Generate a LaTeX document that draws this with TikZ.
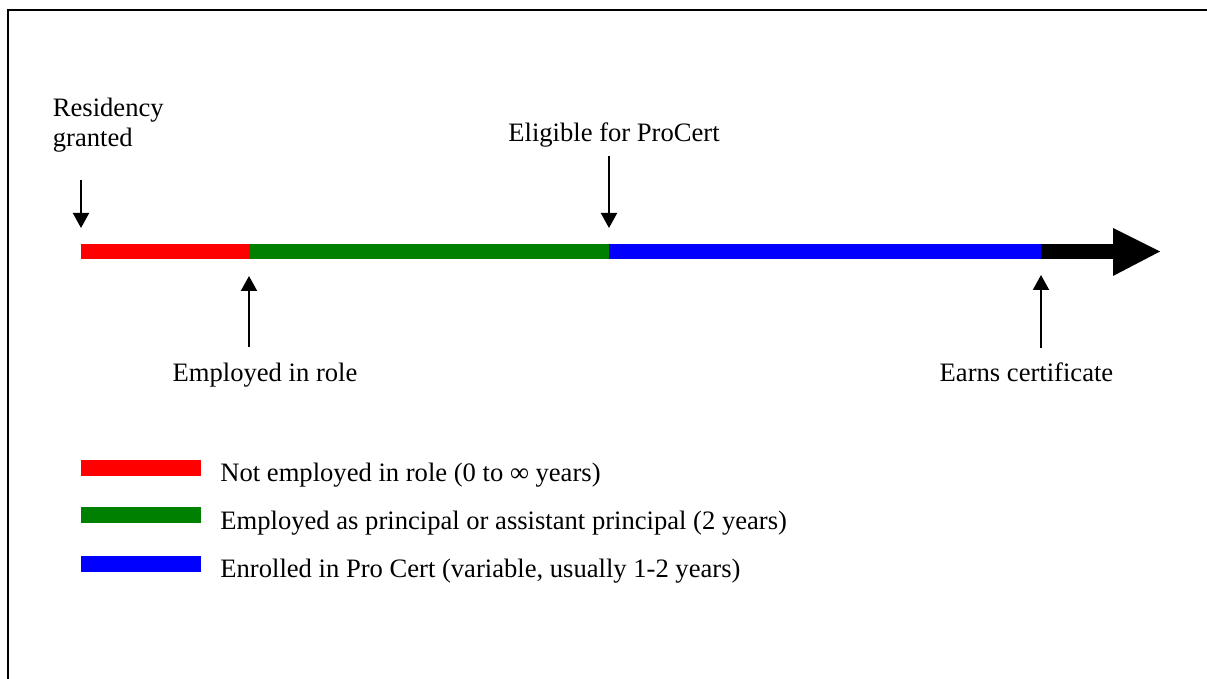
\documentclass[tikz,border=0pt]{standalone}
\usepackage{fontspec}
\setmainfont{Liberation Serif}
\usetikzlibrary{arrows.meta}
\definecolor{segred}{HTML}{FF0000}
\definecolor{seggreen}{HTML}{008000}
\definecolor{segblue}{HTML}{0000FF}
\tikzset{
  lbl/.style={inner sep=0pt, font=\fontsize{13.3}{15}\selectfont},
  seg/.style={line width=7.5pt},
  legbar/.style={line width=8pt},
  pointer/.style={line width=1pt, -{Triangle[length=7.5pt,width=8pt]}},
  frameline/.style={line width=1pt}
}
\begin{document}
\begin{tikzpicture}[x=0.5pt,y=-0.5pt]
\useasboundingbox (0,0) rectangle (1207,679);
% frame
\draw[frameline] (7.5,679) -- (7.5,10.5) -- (1207,10.5);
% timeline points
\coordinate (t0) at (81,251.5);
\coordinate (t1) at (249,251.5);
\coordinate (t2) at (609,251.5);
\coordinate (t3) at (1041,251.5);
\coordinate (t4) at (1113,251.5);
\coordinate (t5) at (1160,251.5);
\draw[seg, segred] (t0) -- (t1);
\draw[seg, seggreen] (t1) -- (t2);
\draw[seg, segblue] (t2) -- (t3);
\draw[seg, black] (t3) -- (t4);
\fill[black] (1113,228) -- (t5) -- (1113,276) -- cycle;
% labels
\node[lbl, anchor=base west, align=left] (res) at (52.5,147) {Residency\\granted};
\node[lbl, anchor=base] (elig) at (614,142) {Eligible for ProCert};
\node[lbl, anchor=base] (emp) at (265,382) {Employed in role};
\node[lbl, anchor=base] (earn) at (1026.5,382) {Earns certificate};
% pointers
\coordinate (p0s) at (81,180);   \coordinate (p0e) at (81,228);
\coordinate (p1s) at (609,156);  \coordinate (p1e) at (609,228);
\coordinate (p2s) at (249,347);  \coordinate (p2e) at (249,276);
\coordinate (p3s) at (1041,348); \coordinate (p3e) at (1041,275);
\draw[pointer] (p0s) -- (p0e);
\draw[pointer] (p1s) -- (p1e);
\draw[pointer] (p2s) -- (p2e);
\draw[pointer] (p3s) -- (p3e);
% legend
\coordinate (l1a) at (81,468);  \coordinate (l1b) at (201,468);
\coordinate (l2a) at (81,515.5);\coordinate (l2b) at (201,515.5);
\coordinate (l3a) at (81,564);  \coordinate (l3b) at (201,564);
\draw[legbar, segred] (l1a) -- (l1b);
\draw[legbar, seggreen] (l2a) -- (l2b);
\draw[legbar, segblue] (l3a) -- (l3b);
\node[lbl, anchor=base west] (leg1) at (220,482) {Not employed in role (0 to ∞ years)};
\node[lbl, anchor=base west] (leg2) at (220,530) {Employed as principal or assistant principal (2 years)};
\node[lbl, anchor=base west] (leg3) at (220,578) {Enrolled in Pro Cert (variable, usually 1-2 years)};
\end{tikzpicture}
\end{document}
